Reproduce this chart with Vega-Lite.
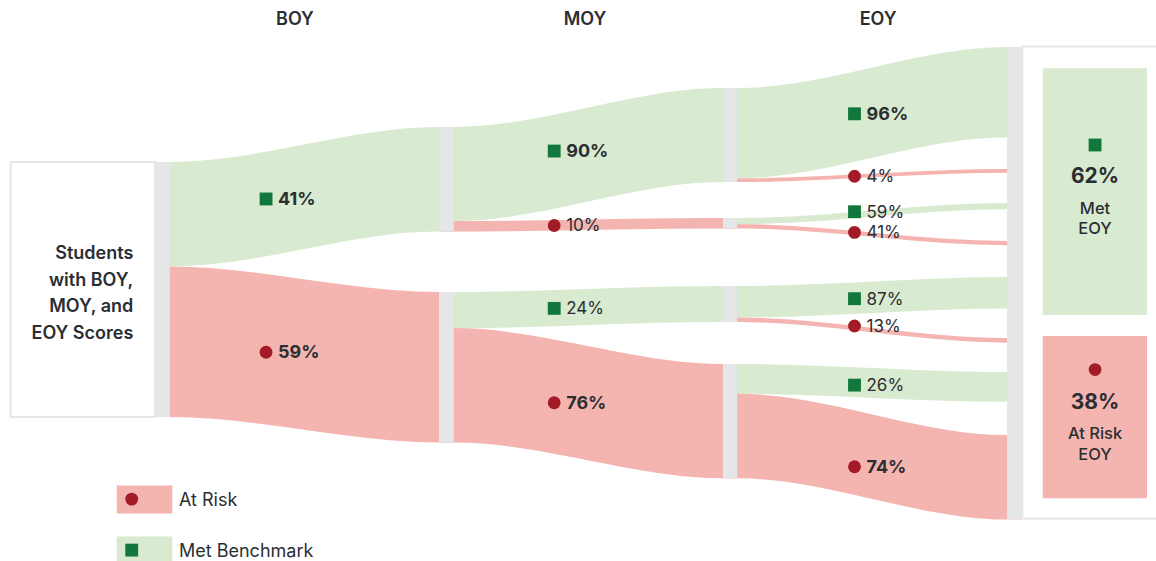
{
 "$schema": "https://vega.github.io/schema/vega-lite/v6.json",
 "width": 1156, "height": 561,
 "autosize": {"type": "none"}, "padding": 0,
 "background": "white",
 "config": {"view": {"stroke": null}, "font": "Inter"},
 "datasets": {
  "bands": [
   {"id":"S-BG","kind":"Met","x":[0,0.052,1,1.052],"top":[0,0,-13.73,-13.73],"bot":[41,41,27.27,27.27]},
   {"id":"S-BR","kind":"Risk","x":[0,0.052,1,1.052],"top":[41,41,50.98,50.98],"bot":[100,100,109.98,109.98]},
   {"id":"BG-MG","kind":"Met","x":[1,1.052,2,2.052],"top":[-13.73,-13.73,-29.02,-29.02],"bot":[23.17,23.17,7.88,7.88]},
   {"id":"BG-MR","kind":"Risk","x":[1,1.052,2,2.052],"top":[23.17,23.17,21.96,21.96],"bot":[27.27,27.27,26.06,26.06]},
   {"id":"BR-MG","kind":"Met","x":[1,1.052,2,2.052],"top":[50.98,50.98,48.63,48.63],"bot":[65.14,65.14,62.79,62.79]},
   {"id":"BR-MR","kind":"Risk","x":[1,1.052,2,2.052],"top":[65.14,65.14,79.2,79.2],"bot":[109.98,109.98,124.04,124.04]},
   {"id":"GG-G","kind":"Met","x":[2,2.052,3,3.052],"top":[-29.02,-29.02,-45.1,-45.1],"bot":[6.4,6.4,-9.68,-9.68]},
   {"id":"GG-R","kind":"Risk","x":[2,2.052,3,3.052],"top":[6.4,6.4,2.75,2.75],"bot":[7.88,7.88,4.23,4.23]},
   {"id":"GR-G","kind":"Met","x":[2,2.052,3,3.052],"top":[21.96,21.96,16.08,16.08],"bot":[24.38,24.38,18.5,18.5]},
   {"id":"GR-R","kind":"Risk","x":[2,2.052,3,3.052],"top":[24.38,24.38,30.98,30.98],"bot":[26.06,26.06,32.66,32.66]},
   {"id":"RG-G","kind":"Met","x":[2,2.052,3,3.052],"top":[48.63,48.63,45.1,45.1],"bot":[60.95,60.95,57.42,57.42]},
   {"id":"RG-R","kind":"Risk","x":[2,2.052,3,3.052],"top":[60.95,60.95,69.0,69.0],"bot":[62.79,62.79,70.84,70.84]},
   {"id":"RR-G","kind":"Met","x":[2,2.052,3,3.052],"top":[79.2,79.2,82.35,82.35],"bot":[90.86,90.86,94.01,94.01]},
   {"id":"RR-R","kind":"Risk","x":[2,2.052,3,3.052],"top":[90.86,90.86,107.06,107.06],"bot":[124.04,124.04,140.24,140.24]}
  ],
  "nodes": [
   {"x":0,"x2":0.052,"y":0,"y2":100},
   {"x":1,"x2":1.052,"y":-13.73,"y2":27.27},
   {"x":1,"x2":1.052,"y":50.98,"y2":109.98},
   {"x":2,"x2":2.05,"y":-29.02,"y2":7.88},
   {"x":2,"x2":2.05,"y":21.96,"y2":26.06},
   {"x":2,"x2":2.05,"y":48.63,"y2":62.79},
   {"x":2,"x2":2.05,"y":79.2,"y2":124.04},
   {"x":3,"x2":3.054,"y":-45.1,"y2":140.24}
  ],
  "frames": [
   {"x":-0.508,"x2":0,"y":0,"y2":100},
   {"x":3.054,"x2":3.6,"y":-45.3,"y2":139.9}
  ],
  "boxes": [
   {"kind":"Met","x":3.1257,"x2":3.493,"y":-36.75,"y2":60.0},
   {"kind":"Risk","x":3.1257,"x2":3.493,"y":68.24,"y2":131.9},
   {"kind":"Risk","x":-0.1349,"x2":0.0609,"y":126.9,"y2":137.8},
   {"kind":"Met","x":-0.1349,"x2":0.0609,"y":146.9,"y2":162}
  ],
  "labels": [
   {"x":0.391,"y":14.5,"kind":"Met","pct":"41%","w":"bold"},
   {"x":0.391,"y":74.6,"kind":"Risk","pct":"59%","w":"bold"},
   {"x":1.4056,"y":-4.3,"kind":"Met","pct":"90%","w":"bold"},
   {"x":1.4056,"y":24.9,"kind":"Risk","pct":"10%","w":"reg"},
   {"x":1.4056,"y":57.4,"kind":"Met","pct":"24%","w":"reg"},
   {"x":1.4056,"y":94.4,"kind":"Risk","pct":"76%","w":"bold"},
   {"x":2.463,"y":-18.9,"kind":"Met","pct":"96%","w":"bold"},
   {"x":2.463,"y":5.6,"kind":"Risk","pct":"4%","w":"reg"},
   {"x":2.463,"y":19.5,"kind":"Met","pct":"59%","w":"reg"},
   {"x":2.463,"y":27.6,"kind":"Risk","pct":"41%","w":"reg"},
   {"x":2.463,"y":53.6,"kind":"Met","pct":"87%","w":"reg"},
   {"x":2.463,"y":64.3,"kind":"Risk","pct":"13%","w":"reg"},
   {"x":2.463,"y":87.5,"kind":"Met","pct":"26%","w":"reg"},
   {"x":2.463,"y":119.5,"kind":"Risk","pct":"74%","w":"bold"},
   {"x":3.31,"y":-6.67,"kind":"Met","pct":null,"w":"none"},
   {"x":3.31,"y":81.4,"kind":"Risk","pct":null,"w":"none"},
   {"x":-0.082,"y":132.2,"kind":"Risk","pct":null,"w":"none"},
   {"x":-0.082,"y":152.2,"kind":"Met","pct":null,"w":"none"}
  ],
  "texts": [
   {"t":"BOY","x":0.493,"y":-56.1,"s":"head"},
   {"t":"MOY","x":1.514,"y":-56.1,"s":"head"},
   {"t":"EOY","x":2.546,"y":-56.1,"s":"head"},
   {"t":"Students","x":-0.0764,"y":35.4,"s":"stud"},
   {"t":"with BOY,","x":-0.0764,"y":45.9,"s":"stud"},
   {"t":"MOY, and","x":-0.0764,"y":56.4,"s":"stud"},
   {"t":"EOY Scores","x":-0.0764,"y":66.8,"s":"stud"},
   {"t":"62%","x":3.31,"y":5.6,"s":"boxpct"},
   {"t":"Met","x":3.31,"y":18.0,"s":"boxlab"},
   {"t":"EOY","x":3.31,"y":26.0,"s":"boxlab"},
   {"t":"38%","x":3.31,"y":94.1,"s":"boxpct"},
   {"t":"At Risk","x":3.31,"y":106.4,"s":"boxlab"},
   {"t":"EOY","x":3.31,"y":114.4,"s":"boxlab"},
   {"t":"At Risk","x":0.0845,"y":132.5,"s":"legend"},
   {"t":"Met Benchmark","x":0.0845,"y":152.4,"s":"legend"}
  ]
 },
 "resolve": {"scale": {"color": "independent", "shape": "independent"}},
 "layer": [
  {
   "data": {"name": "frames"},
   "mark": {"type": "rect", "fill": "white", "stroke": "#e6e6e6", "strokeWidth": 2},
   "encoding": {
    "x": {"field": "x", "type": "quantitative", "scale": {"domain": [-0.5458, 3.5246], "nice": false, "zero": false}, "axis": null},
    "x2": {"field": "x2"},
    "y": {"field": "y", "type": "quantitative", "scale": {"domain": [-63.53, 156.47], "reverse": true, "nice": false, "zero": false}, "axis": null},
    "y2": {"field": "y2"}
   }
  },
  {
   "data": {"name": "bands"},
   "transform": [{"flatten": ["x", "top", "bot"]}],
   "mark": {"type": "area", "interpolate": "monotone", "opacity": 1},
   "encoding": {
    "x": {"field": "x", "type": "quantitative", "scale": {"domain": [-0.5458, 3.5246], "nice": false, "zero": false}, "axis": null},
    "y": {"field": "top", "type": "quantitative", "scale": {"domain": [-63.53, 156.47], "reverse": true, "nice": false, "zero": false}, "axis": null},
    "y2": {"field": "bot"},
    "detail": {"field": "id"},
    "color": {"field": "kind", "type": "nominal", "scale": {"domain": ["Met", "Risk"], "range": ["#d8eacf", "#f4b5b0"]}, "legend": null}
   }
  },
  {
   "data": {"name": "nodes"},
   "mark": {"type": "rect", "fill": "#e5e6e8"},
   "encoding": {
    "x": {"field": "x", "type": "quantitative", "scale": {"domain": [-0.5458, 3.5246], "nice": false, "zero": false}, "axis": null},
    "x2": {"field": "x2"},
    "y": {"field": "y", "type": "quantitative", "scale": {"domain": [-63.53, 156.47], "reverse": true, "nice": false, "zero": false}, "axis": null},
    "y2": {"field": "y2"}
   }
  },
  {
   "data": {"name": "boxes"},
   "mark": {"type": "rect", "opacity": 1},
   "encoding": {
    "x": {"field": "x", "type": "quantitative", "scale": {"domain": [-0.5458, 3.5246], "nice": false, "zero": false}, "axis": null},
    "x2": {"field": "x2"},
    "y": {"field": "y", "type": "quantitative", "scale": {"domain": [-63.53, 156.47], "reverse": true, "nice": false, "zero": false}, "axis": null},
    "y2": {"field": "y2"},
    "color": {"field": "kind", "type": "nominal", "scale": {"domain": ["Met", "Risk"], "range": ["#d8eacf", "#f4b5b0"]}, "legend": null}
   }
  },
  {
   "data": {"name": "labels"},
   "mark": {"type": "point", "filled": true, "opacity": 1, "size": 165},
   "encoding": {
    "x": {"field": "x", "type": "quantitative", "scale": {"domain": [-0.5458, 3.5246], "nice": false, "zero": false}, "axis": null},
    "y": {"field": "y", "type": "quantitative", "scale": {"domain": [-63.53, 156.47], "reverse": true, "nice": false, "zero": false}, "axis": null},
    "shape": {"field": "kind", "type": "nominal", "scale": {"domain": ["Met", "Risk"], "range": ["square", "circle"]}, "legend": null},
    "color": {"field": "kind", "type": "nominal", "scale": {"domain": ["Met", "Risk"], "range": ["#11773b", "#a31b26"]}, "legend": null}
   }
  },
  {
   "data": {"name": "labels"},
   "transform": [{"filter": "datum.w === 'bold'"}],
   "mark": {"type": "text", "align": "left", "baseline": "middle", "dx": 12, "dy": 1, "fontSize": 18, "fontWeight": 700, "color": "#2a2e33"},
   "encoding": {
    "x": {"field": "x", "type": "quantitative", "scale": {"domain": [-0.5458, 3.5246], "nice": false, "zero": false}, "axis": null},
    "y": {"field": "y", "type": "quantitative", "scale": {"domain": [-63.53, 156.47], "reverse": true, "nice": false, "zero": false}, "axis": null},
    "text": {"field": "pct"}
   }
  },
  {
   "data": {"name": "labels"},
   "transform": [{"filter": "datum.w === 'reg'"}],
   "mark": {"type": "text", "align": "left", "baseline": "middle", "dx": 12, "dy": 1, "fontSize": 17, "fontWeight": 400, "color": "#2a2e33"},
   "encoding": {
    "x": {"field": "x", "type": "quantitative", "scale": {"domain": [-0.5458, 3.5246], "nice": false, "zero": false}, "axis": null},
    "y": {"field": "y", "type": "quantitative", "scale": {"domain": [-63.53, 156.47], "reverse": true, "nice": false, "zero": false}, "axis": null},
    "text": {"field": "pct"}
   }
  },
  {
   "data": {"name": "texts"},
   "transform": [{"filter": "datum.s === 'head'"}],
   "mark": {"type": "text", "align": "center", "baseline": "middle", "dy": 1, "fontSize": 18, "fontWeight": 600, "color": "#2a2e33"},
   "encoding": {
    "x": {"field": "x", "type": "quantitative", "scale": {"domain": [-0.5458, 3.5246], "nice": false, "zero": false}, "axis": null},
    "y": {"field": "y", "type": "quantitative", "scale": {"domain": [-63.53, 156.47], "reverse": true, "nice": false, "zero": false}, "axis": null},
    "text": {"field": "t"}
   }
  },
  {
   "data": {"name": "texts"},
   "transform": [{"filter": "datum.s === 'stud'"}],
   "mark": {"type": "text", "align": "right", "baseline": "middle", "dy": 1.5, "fontSize": 18, "fontWeight": 600, "color": "#2a2e33"},
   "encoding": {
    "x": {"field": "x", "type": "quantitative", "scale": {"domain": [-0.5458, 3.5246], "nice": false, "zero": false}, "axis": null},
    "y": {"field": "y", "type": "quantitative", "scale": {"domain": [-63.53, 156.47], "reverse": true, "nice": false, "zero": false}, "axis": null},
    "text": {"field": "t"}
   }
  },
  {
   "data": {"name": "texts"},
   "transform": [{"filter": "datum.s === 'boxpct'"}],
   "mark": {"type": "text", "align": "center", "baseline": "middle", "dy": 1, "fontSize": 21, "fontWeight": 700, "color": "#2a2e33"},
   "encoding": {
    "x": {"field": "x", "type": "quantitative", "scale": {"domain": [-0.5458, 3.5246], "nice": false, "zero": false}, "axis": null},
    "y": {"field": "y", "type": "quantitative", "scale": {"domain": [-63.53, 156.47], "reverse": true, "nice": false, "zero": false}, "axis": null},
    "text": {"field": "t"}
   }
  },
  {
   "data": {"name": "texts"},
   "transform": [{"filter": "datum.s === 'boxlab'"}],
   "mark": {"type": "text", "align": "center", "baseline": "middle", "dy": 1, "fontSize": 16.5, "fontWeight": 500, "color": "#2a2e33"},
   "encoding": {
    "x": {"field": "x", "type": "quantitative", "scale": {"domain": [-0.5458, 3.5246], "nice": false, "zero": false}, "axis": null},
    "y": {"field": "y", "type": "quantitative", "scale": {"domain": [-63.53, 156.47], "reverse": true, "nice": false, "zero": false}, "axis": null},
    "text": {"field": "t"}
   }
  },
  {
   "data": {"name": "texts"},
   "transform": [{"filter": "datum.s === 'legend'"}],
   "mark": {"type": "text", "align": "left", "baseline": "middle", "dy": 1, "fontSize": 18, "fontWeight": 400, "color": "#2a2e33"},
   "encoding": {
    "x": {"field": "x", "type": "quantitative", "scale": {"domain": [-0.5458, 3.5246], "nice": false, "zero": false}, "axis": null},
    "y": {"field": "y", "type": "quantitative", "scale": {"domain": [-63.53, 156.47], "reverse": true, "nice": false, "zero": false}, "axis": null},
    "text": {"field": "t"}
   }
  }
 ]
}
